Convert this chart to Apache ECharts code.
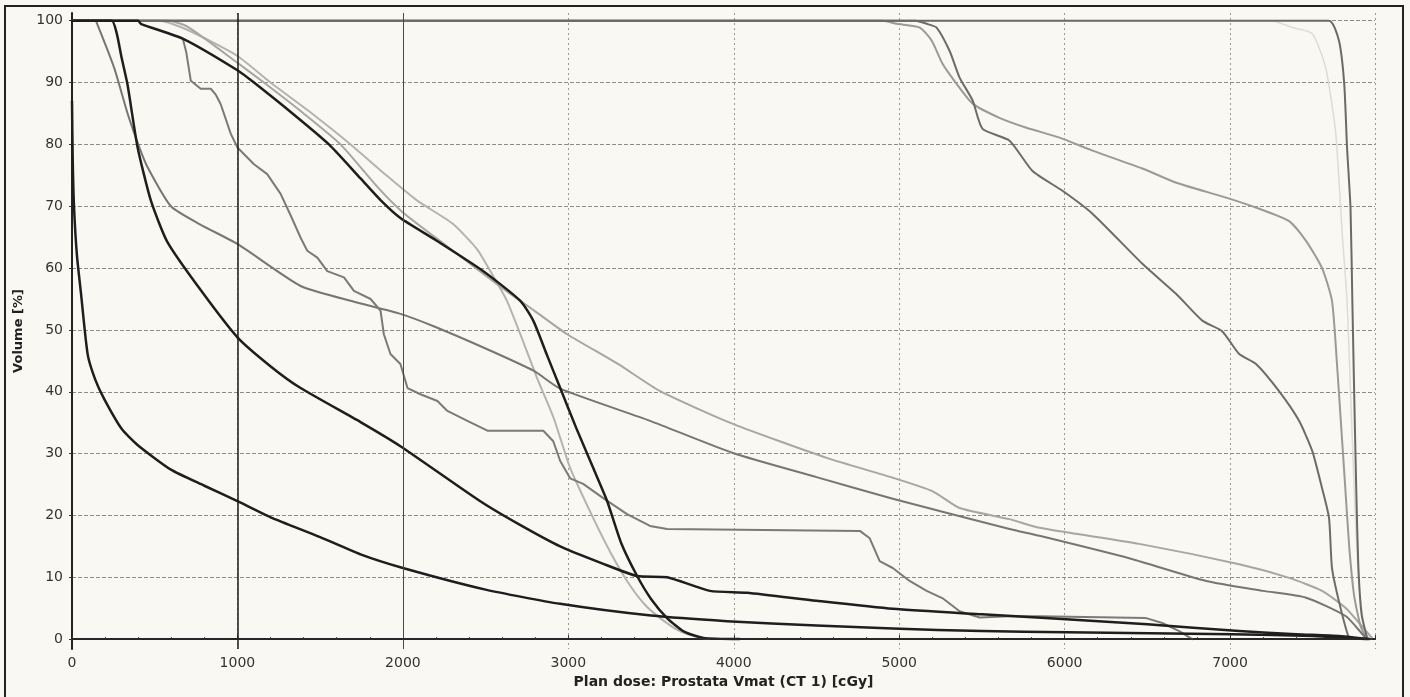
<!DOCTYPE html>
<html>
<head>
<meta charset="utf-8">
<script src="https://cdn.jsdelivr.net/npm/echarts@6/dist/echarts.min.js"></script>
<style>
  html, body { margin: 0; padding: 0; background: #f9f8f2; }
  #chart { width: 1410px; height: 697px; }
</style>
</head>
<body>
<div id="chart"></div>
<script>
// dose [cGy], volume [%]
const curveA = [[0,87],[4,78],[12,70],[30,62],[54,56],[95,46],[140,42],[195,38.8],[300,34],[396,31.4],[598,27.4],[800,24.8],[1000,22.3],[1201,19.7],[1500,16.5],[1744,13.7],[2000,11.5],[2500,8],[2951,5.7],[3500,3.8],[3959,2.9],[4500,2.2],[4961,1.7],[5500,1.3],[6009,1.1],[7015,0.8],[7500,0.5],[7700,0.2],[7820,0]]
const curveB = [[0,100],[240,100],[270,98],[300,94],[336,89.6],[396,79.6],[477,70.9],[577,64.2],[779,56.4],[1000,48.8],[1201,44.1],[1382,40.6],[1744,35.1],[1985,31.2],[2468,22.3],[2700,18.6],[2951,15],[3200,12.3],[3416,10.2],[3597,10],[3856,7.8],[4080,7.5],[4500,6.2],[4961,4.9],[5500,4],[6009,3.2],[6500,2.4],[7055,1.3],[7400,0.8],[7658,0.5],[7800,0.1],[7840,0]]
const curveC = [[0,100],[140,100],[155,99.3],[256,92.3],[336,85],[406,79.6],[457,76.3],[598,70],[779,67],[1000,63.9],[1382,57.1],[1700,54.6],[1985,52.6],[2186,50.6],[2500,47],[2790,43.4],[2951,40.5],[3494,35.3],[3995,30.1],[4500,26.2],[4961,22.7],[5667,17.8],[5848,16.7],[6400,13],[6856,9.4],[7200,7.8],[7459,6.7],[7700,3.7],[7821,0.2],[7850,0]]
const curveD = [[0,100],[400,100],[416,99.5],[678,97],[1000,92],[1100,90],[1342,84.8],[1553,80],[1744,74.5],[1865,71],[1985,68.1],[2200,64.5],[2486,59.5],[2710,54.7],[2788,51.5],[2870,46],[2951,40.6],[3050,34],[3150,27.7],[3235,22.3],[3320,15.5],[3416,10.2],[3500,6.5],[3597,3.4],[3700,1.2],[3817,0.2],[4035,0]]
const curveE = [[0,100],[530,100],[700,98.5],[1000,94.3],[1200,90],[1450,85],[1684,80],[1900,75],[2087,70.9],[2300,67.2],[2450,63],[2550,58.5],[2629,54.7],[2710,49.3],[2810,42.3],[2911,35.8],[3011,27.7],[3150,19.6],[3255,14],[3355,9.4],[3455,5.8],[3555,3.4],[3680,1.2],[3796,0.2],[3850,0]]
const curveF = [[0,100],[580,100],[700,99],[1000,93.2],[1160,90],[1400,85],[1623,80],[1850,73],[2000,69],[2269,63.5],[2589,57],[2800,53],[2993,49.3],[3300,44.5],[3555,40.1],[3995,34.8],[4562,29.3],[4961,26.1],[5203,23.9],[5365,21.2],[5667,19.4],[5848,18],[6451,15.4],[7055,12.1],[7357,9.9],[7556,7.8],[7700,5],[7800,2],[7858,0.2]]
const curveG = [[670,97.1],[690,95],[718,90.3],[778,89],[839,89],[870,88],[899,86.5],[960,81.7],[1000,79.5],[1100,76.8],[1180,75.2],[1261,72],[1322,68.5],[1382,64.9],[1422,62.8],[1483,61.7],[1543,59.5],[1644,58.5],[1704,56.3],[1805,55],[1865,53.1],[1885,49.3],[1925,46.1],[1985,44.5],[2028,40.6],[2106,39.6],[2209,38.5],[2269,36.9],[2390,35.3],[2511,33.7],[2849,33.7],[2909,32],[2951,28.8],[3011,26],[3090,25.1],[3211,22.8],[3355,20.2],[3494,18.3],[3597,17.8],[4762,17.5],[4822,16.3],[4882,12.6],[4961,11.5],[5063,9.4],[5166,7.8],[5263,6.6],[5365,4.5],[5486,3.5],[5667,3.7],[5848,3.7],[6493,3.4],[6590,2.6],[6693,1.3],[6771,0]]
const curveH = [[0,100],[4900,100],[4985,99.5],[5124,98.9],[5196,96.8],[5263,93],[5347,89.8],[5444,86.6],[5606,84.3],[5769,82.7],[5969,81.1],[6168,79],[6470,76.1],[6675,73.8],[6976,71.4],[7176,69.6],[7357,67.6],[7459,64.4],[7556,60],[7616,54.7],[7645,45],[7670,35],[7695,25],[7720,15],[7750,7],[7790,2],[7830,0]]
const curveI = [[0,100],[5100,100],[5166,99.5],[5226,98.9],[5305,95.1],[5365,90.8],[5444,87.1],[5504,82.5],[5667,80.6],[5806,75.7],[5987,72.5],[6168,68.8],[6470,60.7],[6675,55.8],[6832,51.5],[6952,49.8],[7055,46.1],[7157,44.5],[7296,40.1],[7417,35.3],[7497,30.4],[7556,24.4],[7598,19.6],[7616,11.5],[7658,6.1],[7718,0.2],[7740,0]]
const curveJ = [[0,100],[7598,100],[7658,96.8],[7690,89.8],[7707,79.5],[7728,69.7],[7739,54.7],[7750,40],[7762,25],[7775,12],[7795,4],[7830,0]]
const curveK = [[0,100],[7250,100],[7376,98.9],[7497,97.9],[7578,92.4],[7639,81.7],[7678,65.5],[7707,54.7],[7735,35],[7760,18],[7785,7],[7820,1],[7850,0]]

const yTicks = [0, 10, 20, 30, 40, 50, 60, 70, 80, 90, 100]

const myChart = echarts.init(document.getElementById('chart'))

const line = (data, color, width, smooth) => ({
  type: 'line',
  data: data,
  showSymbol: false,
  smooth: smooth,
  lineStyle: { color: color, width: width, join: 'round', cap: 'round' },
  silent: true
})

const series = [
  line(curveK, '#dcdcd8', 1.5, 0.2),
  line(curveE, '#b3b3b0', 2, 0.2),
  line(curveF, '#a6a6a3', 2, 0.2),
  line(curveH, '#9a9a97', 2, 0.2),
  line(curveC, '#767674', 2, 0.2),
  line(curveG, '#7a7a78', 2, false),
  line(curveI, '#6c6c6a', 2, 0.2),
  line(curveJ, '#6a6a68', 2, 0.2),
  line(curveA, '#1e1e1e', 2.5, 0.2),
  line(curveB, '#1e1e1e', 2.5, 0.2),
  line(curveD, '#1e1e1e', 2.5, 0.2)
]

// darker reference lines seen on the scan
series.push({
  type: 'line',
  data: [],
  markLine: {
    silent: true,
    symbol: 'none',
    label: { show: false },
    data: [
      { xAxis: 1000, lineStyle: { color: '#1a1a1a', width: 1.5, type: 'solid' } },
      { xAxis: 2000, lineStyle: { color: '#4a4a4a', width: 1, type: 'solid' } },
      { yAxis: 0, lineStyle: { color: '#2a2a2a', width: 1.5, type: 'solid' } }
    ]
  }
})

myChart.setOption({
  animation: false,
  backgroundColor: '#f9f8f2',
  grid: {
    left: 72,
    right: 35,
    top: 13,
    bottom: 48
  },
  xAxis: {
    type: 'value',
    min: 0,
    max: 7876,
    interval: 1000,
    name: 'Plan dose: Prostata Vmat (CT 1) [cGy]',
    nameLocation: 'middle',
    nameGap: 25,
    nameTextStyle: {
      fontFamily: 'DejaVu Sans',
      fontWeight: 'bold',
      fontSize: 14,
      color: '#222'
    },
    axisLine: { lineStyle: { color: '#222', width: 2 } },
    axisTick: { inside: true, length: 4, lineStyle: { color: '#333' } },
    minorTick: { show: true, splitNumber: 5, length: 2, lineStyle: { color: '#444' } },
    axisLabel: {
      margin: 7,
      fontFamily: 'DejaVu Sans',
      fontSize: 14,
      color: '#333',
      showMaxLabel: false,
      formatter: v => String(v)
    },
    splitLine: {
      show: true,
      lineStyle: { color: '#9a9a96', width: 1, type: [2, 3] }
    }
  },
  yAxis: {
    type: 'value',
    min: -1.6,
    max: 101.25,
    name: 'Volume [%]',
    nameLocation: 'middle',
    nameGap: 47,
    nameRotate: 90,
    nameTextStyle: {
      fontFamily: 'DejaVu Sans',
      fontWeight: 'bold',
      fontSize: 13,
      color: '#222'
    },
    axisLine: { show: true, lineStyle: { color: '#222', width: 2 } },
    axisTick: { show: true, length: 3, customValues: yTicks, lineStyle: { color: '#333' } },
    axisLabel: {
      customValues: yTicks,
      margin: 9,
      fontFamily: 'DejaVu Sans',
      fontSize: 14,
      color: '#333'
    },
    splitLine: {
      show: true,
      lineStyle: { color: '#8c8c88', width: 1, type: [4, 2] }
    }
  },
  graphic: [
    {
      type: 'rect',
      shape: { x: 5, y: 6, width: 1398, height: 700 },
      style: { fill: 'none', stroke: '#222', lineWidth: 2 },
      silent: true
    }
  ],
  series: series
})
</script>
</body>
</html>
